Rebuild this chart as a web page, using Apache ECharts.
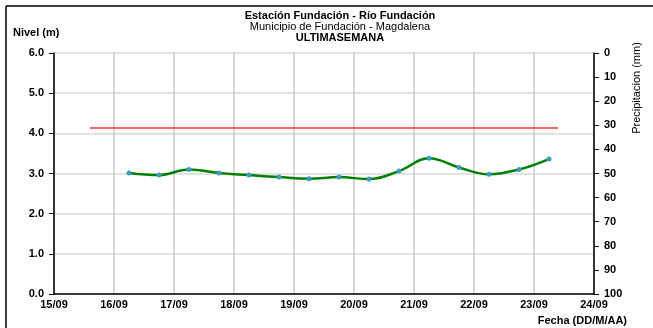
<!DOCTYPE html>
<html><head><meta charset="utf-8">
<script src="https://cdn.jsdelivr.net/npm/echarts@6/dist/echarts.min.js"></script>
<style>html,body{margin:0;padding:0;background:#fff}#c{width:653px;height:328px}</style>
</head><body><div id="c"></div>
<script>
const xTickLabels = ['15/09','16/09','17/09','18/09','19/09','20/09','21/09','22/09','23/09','24/09'];
const levelLabels = ['0.0','1.0','2.0','3.0','4.0','5.0','6.0'];
const precipLabels = ['0','10','20','30','40','50','60','70','80','90','100'];
const times = ['16/09 06:00','16/09 18:00','17/09 06:00','17/09 18:00','18/09 06:00','18/09 18:00',
  '19/09 06:00','19/09 18:00','20/09 06:00','20/09 18:00','21/09 06:00','21/09 18:00',
  '22/09 06:00','22/09 18:00','23/09 06:00'];
const levels = [3.01,2.96,3.10,3.01,2.96,2.91,2.87,2.91,2.86,3.06,3.38,3.15,2.98,3.10,3.36];
const alertLevel = 4.13;
const alertTimes = ['15/09 14:24','23/09 09:36'];

function toX(s){
  const [d,h] = s.split(' ');
  const [hh,mm] = h.split(':').map(Number);
  return xTickLabels.indexOf(d) + (hh + mm/60)/24;
}
const font = 'Liberation Sans, Arial, sans-serif';
const chart = echarts.init(document.getElementById('c'));
chart.setOption({
  animation:false,
  backgroundColor:'#fff',
  grid:{left:54,right:59,top:53,bottom:34},
  xAxis:{type:'value',min:0,max:xTickLabels.length-1,interval:1,
    axisLine:{lineStyle:{color:'#000',width:1.5}},
    axisTick:{show:false},
    splitLine:{show:true,lineStyle:{color:'#c8c8c8',width:1.5}},
    axisLabel:{formatter:v=>xTickLabels[Math.round(v)],color:'#000',fontFamily:font,fontWeight:'bold',fontSize:11,margin:5}},
  yAxis:[
    {type:'value',min:0,max:6,interval:1,
     axisLine:{show:true,lineStyle:{color:'#000',width:1.5}},
     axisTick:{show:true,length:5,lineStyle:{color:'#000'}},
     splitLine:{show:true,lineStyle:{color:'#d9d9d9',width:1.5}},
     axisLabel:{formatter:v=>levelLabels[Math.round(v)],color:'#000',fontFamily:font,fontWeight:'bold',fontSize:11,margin:10}},
    {type:'value',min:0,max:100,interval:10,inverse:true,position:'right',
     axisLine:{show:true,lineStyle:{color:'#000',width:1.5}},
     axisTick:{show:true,length:5,lineStyle:{color:'#000'}},
     splitLine:{show:false},
     axisLabel:{formatter:v=>precipLabels[Math.round(v/10)],color:'#000',fontFamily:font,fontWeight:'bold',fontSize:11,margin:10}}
  ],
  series:[
    {type:'line',data:alertTimes.map(t=>[toX(t),alertLevel]),symbol:'none',
     lineStyle:{color:'#ff3333',width:1.5},z:2},
    {type:'line',smooth:0.4,data:times.map((t,i)=>[toX(t),levels[i]]),
     symbol:'circle',symbolSize:5,
     itemStyle:{color:'#3a9bbf',borderWidth:0},
     lineStyle:{color:'#008000',width:2.5},z:3}
  ],
  graphic:[
    {type:'line',shape:{x1:6,y1:6,x2:653,y2:6},style:{stroke:'#000',lineWidth:1.5}},
    {type:'line',shape:{x1:6,y1:6,x2:6,y2:328},style:{stroke:'#000',lineWidth:1.5}},
    {type:'text',x:340,y:16,style:{text:'Estación Fundación - Río Fundación',fontFamily:font,fontWeight:'bold',fontSize:11,fill:'#000',align:'center',verticalAlign:'middle'}},
    {type:'text',x:340,y:27,style:{text:'Municipio de Fundación - Magdalena',fontFamily:font,fontSize:11,fill:'#000',align:'center',verticalAlign:'middle'}},
    {type:'text',x:340,y:38,style:{text:'ULTIMASEMANA',fontFamily:font,fontWeight:'bold',fontSize:11,fill:'#000',align:'center',verticalAlign:'middle'}},
    {type:'text',x:13,y:33,style:{text:'Nivel (m)',fontFamily:font,fontWeight:'bold',fontSize:11,fill:'#000',align:'left',verticalAlign:'middle'}},
    {type:'text',x:627,y:321,style:{text:'Fecha (DD/M/AA)',fontFamily:font,fontWeight:'bold',fontSize:11,fill:'#000',align:'right',verticalAlign:'middle'}},
    {type:'text',x:637,y:88,rotation:Math.PI/2,style:{text:'Precipitacion (mm)',fontFamily:font,fontSize:11,fill:'#000',align:'center',verticalAlign:'middle'}}
  ]
});
</script></body></html>
